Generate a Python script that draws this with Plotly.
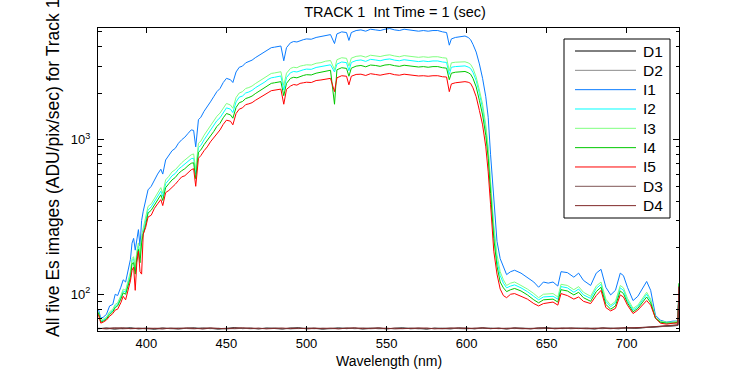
import plotly.graph_objects as go

# ---------------- data ----------------
wl = [
    370, 371.5, 373, 375, 377, 379, 380.5, 382, 384, 385.5,
    387, 388.5, 390, 391, 392, 393, 394, 395, 396, 397,
    398, 399.5, 401, 403, 405, 407, 409, 410.2, 412, 414,
    416, 418, 420, 422, 424, 426, 428, 429.5, 430.8, 432.5,
    434, 436, 438, 440, 442, 444, 446, 448, 450, 452.5,
    454, 456, 458, 460, 462, 464, 466, 468, 470, 472,
    474, 476, 478, 480, 482, 484, 485.8, 487.5, 490, 492,
    494, 496, 498, 500, 503, 506, 509, 512, 515, 517.5,
    519, 522, 525, 526.5, 528, 531, 534, 537, 540, 543,
    546, 549, 552, 555, 558, 561, 564, 567, 570, 573,
    576, 579, 582, 585, 587.5, 589.2, 590.5, 593, 596, 599,
    601, 602.5, 604, 606, 608, 610, 612, 613.5, 615, 617,
    619, 621, 623, 625, 627.5, 630, 634, 638, 642, 645,
    648, 651, 654, 657, 659, 663, 667, 670, 673, 677.5,
    681, 684, 687, 690, 693, 696, 698, 700.5, 704, 707,
    710, 712.5, 715, 718, 721, 725, 729, 732, 732.7,
]

i1 = [
    80, 70, 71, 74, 84, 86, 100, 98, 111, 124,
    120, 145, 168, 214, 230, 193, 225, 262, 205, 300,
    345, 400, 474, 500, 555, 600, 645, 600, 740, 790,
    850, 880, 950, 1000, 1040, 1100, 1160, 1150, 900, 1350,
    1400, 1530, 1630, 1760, 1900, 2050, 2150, 2350, 2500, 2450,
    2350, 2750, 2950, 3000, 3150, 3200, 3280, 3400, 3500, 3600,
    3720, 3850, 3950, 3980, 4030, 4050, 3250, 3950, 4250, 4330,
    4300, 4400, 4450, 4500, 4480, 4600, 4650, 4750, 4800, 4200,
    4850, 5000, 4950, 4400, 4950, 5100, 5150, 5050, 5200, 5150,
    5100, 5200, 5250, 5150, 5100, 5200, 5150, 5100, 5050, 5100,
    5050, 5100, 5100, 5000, 4950, 4100, 4500, 4600, 4650, 4700,
    4600, 4450, 4150, 3700, 3100, 2500, 1900, 1400, 800, 420,
    220, 170, 150, 134, 140, 143, 137, 129, 120, 111,
    120, 118, 120, 113, 140, 138, 129, 137, 123, 114,
    137, 145, 111, 99, 106, 137, 132, 111, 91, 97,
    110, 121, 106, 73, 68, 66, 67, 67, 114,
]

i2 = [
    77, 67, 68, 70, 76, 78, 84, 86, 96, 105,
    103, 118, 135, 165, 170, 142, 182, 205, 172, 230,
    258, 295, 350, 368, 400, 435, 465, 430, 520, 550,
    585, 605, 645, 670, 695, 725, 755, 760, 600, 890,
    920, 1000, 1070, 1150, 1230, 1330, 1390, 1510, 1610, 1580,
    1500, 1760, 1890, 1920, 2010, 2040, 2090, 2170, 2230, 2300,
    2370, 2460, 2520, 2540, 2570, 2590, 2100, 2530, 2720, 2770,
    2750, 2810, 2840, 2870, 2860, 2940, 2970, 3030, 3060, 2750,
    3090, 3190, 3160, 2800, 3170, 3260, 3290, 3220, 3320, 3290,
    3250, 3310, 3340, 3280, 3250, 3300, 3270, 3240, 3210, 3240,
    3210, 3240, 3240, 3190, 3170, 2650, 2950, 2980, 3000, 3010,
    2960, 2900, 2730, 2420, 2000, 1600, 1180, 850, 500, 260,
    165, 132, 118, 110, 113, 115, 110, 104, 97, 92,
    96, 96, 97, 93, 112, 110, 103, 108, 99, 94,
    109, 116, 90, 83, 88, 110, 106, 91, 79, 83,
    92, 100, 91, 70, 66, 65, 66, 66, 116,
]

i3 = [
    77, 68, 69, 71, 77, 80, 86, 88, 98, 108,
    106, 122, 140, 170, 175, 150, 190, 215, 180, 240,
    270, 310, 370, 385, 420, 455, 490, 450, 550, 580,
    620, 640, 680, 710, 740, 770, 800, 810, 640, 950,
    980, 1070, 1150, 1230, 1320, 1420, 1490, 1610, 1720, 1680,
    1600, 1880, 2010, 2050, 2150, 2180, 2230, 2310, 2380, 2450,
    2530, 2620, 2690, 2710, 2740, 2760, 2250, 2700, 2900, 2950,
    2930, 3000, 3030, 3060, 3050, 3130, 3160, 3230, 3260, 2850,
    3300, 3400, 3370, 3000, 3380, 3470, 3500, 3430, 3530, 3500,
    3460, 3520, 3550, 3490, 3450, 3510, 3480, 3440, 3420, 3450,
    3420, 3450, 3450, 3400, 3380, 2800, 3150, 3180, 3200, 3200,
    3150, 3080, 2900, 2550, 2100, 1700, 1250, 900, 540, 280,
    180, 140, 124, 114, 118, 120, 114, 108, 101, 95,
    100, 100, 101, 96, 116, 114, 107, 112, 103, 97,
    113, 120, 93, 85, 90, 114, 110, 94, 81, 85,
    95, 103, 93, 71, 67, 66, 66, 67, 117,
]

i4 = [
    76, 66, 67, 69, 74, 77, 82, 84, 93, 102,
    100, 113, 128, 158, 160, 135, 172, 195, 160, 215,
    245, 280, 335, 350, 380, 410, 440, 405, 490, 520,
    550, 570, 605, 630, 650, 680, 705, 710, 560, 830,
    860, 930, 990, 1060, 1130, 1220, 1280, 1390, 1480, 1450,
    1380, 1620, 1740, 1770, 1850, 1880, 1920, 1990, 2050, 2110,
    2180, 2260, 2320, 2340, 2360, 2380, 1930, 2320, 2500, 2540,
    2520, 2580, 2610, 2640, 2630, 2700, 2730, 2790, 2820, 1700,
    2840, 2930, 2900, 2580, 2910, 3000, 3030, 2970, 3050, 3030,
    2990, 3050, 3070, 3020, 2990, 3040, 3010, 2980, 2960, 2980,
    2950, 2980, 2980, 2930, 2910, 2450, 2700, 2740, 2760, 2770,
    2720, 2660, 2500, 2200, 1800, 1450, 1070, 760, 450, 230,
    152, 120, 110, 104, 107, 109, 105, 99, 92, 88,
    92, 92, 93, 89, 107, 105, 99, 103, 95, 90,
    104, 111, 86, 80, 84, 105, 101, 88, 77, 81,
    89, 96, 88, 70, 66, 65, 65, 66, 118,
]

i5 = [
    74, 65, 66, 68, 72, 75, 79, 80, 88, 97,
    92, 108, 122, 143, 150, 106, 160, 190, 140, 135,
    245, 270, 316, 325, 360, 385, 410, 375, 455, 470,
    490, 515, 545, 575, 585, 615, 640, 650, 500, 760,
    790, 850, 900, 970, 1030, 1110, 1160, 1260, 1340, 1320,
    1250, 1480, 1580, 1610, 1690, 1710, 1740, 1800, 1850, 1890,
    1950, 2020, 2080, 2100, 2120, 2130, 1700, 2120, 2230, 2280,
    2260, 2320, 2340, 2360, 2350, 2420, 2440, 2480, 2500, 2050,
    2520, 2600, 2580, 2270, 2580, 2650, 2660, 2610, 2680, 2650,
    2620, 2660, 2690, 2640, 2620, 2660, 2640, 2610, 2590, 2600,
    2580, 2600, 2600, 2560, 2550, 2050, 2300, 2340, 2370, 2380,
    2360, 2320, 2170, 1900, 1550, 1250, 900, 620, 380, 190,
    135, 108, 98, 95, 100, 101, 97, 93, 87, 84,
    87, 88, 89, 85, 101, 98, 93, 96, 90, 87,
    98, 106, 82, 78, 81, 99, 96, 85, 75, 79,
    85, 91, 85, 70, 65, 64, 65, 65, 112,
]

# dark frames, sampled every 5 nm
wl_dark = list(range(370, 731, 5)) + [732, 732.7]

d1 = [
    59.8, 60.4, 59.5, 60.2, 60.6, 59.7, 60.1, 59.4, 60.3, 60.0,
    59.6, 60.2, 60.5, 59.8, 60.1, 59.5, 60.3, 60.7, 59.9, 60.2,
    59.7, 60.4, 60.0, 59.6, 60.3, 60.6, 59.8, 60.1, 59.5, 60.2,
    60.5, 59.9, 60.3, 59.6, 60.0, 60.4, 59.7, 60.2, 60.6, 59.8,
    60.1, 59.5, 60.3, 60.0, 59.7, 60.4, 60.2, 59.8, 60.5, 59.9,
    60.2, 59.6, 60.4, 60.0, 59.8, 60.3, 60.6, 59.9, 60.1, 59.7,
    60.3, 60.0, 59.6, 60.4, 60.2, 59.8, 60.5, 60.1, 60.7, 61.0,
    61.4, 61.8, 62.5,
    62.8, 110,
]
d2 = [
    60.3, 59.6, 60.1, 60.7, 59.8, 60.2, 60.5, 59.9, 59.6, 60.4,
    60.1, 59.7, 60.0, 60.6, 59.8, 60.3, 59.5, 60.1, 60.4, 59.7,
    60.2, 59.9, 60.5, 60.1, 59.6, 60.0, 60.4, 59.8, 60.3, 59.7,
    60.0, 60.6, 59.8, 60.2, 60.5, 59.7, 60.1, 59.9, 60.3, 60.4,
    59.6, 60.2, 59.9, 60.5, 60.1, 59.8, 59.6, 60.3, 60.0, 60.6,
    59.8, 60.3, 59.9, 60.5, 60.2, 59.7, 60.1, 60.4, 59.8, 60.3,
    59.9, 60.4, 60.1, 59.8, 60.5, 60.2, 59.9, 60.6, 60.9, 61.3,
    61.7, 62.2, 62.9,
    63.2, 111,
]
d3 = [
    59.9, 60.2, 60.6, 59.7, 60.1, 60.4, 59.6, 60.2, 60.5, 59.8,
    60.3, 60.0, 59.7, 60.4, 60.6, 59.9, 60.2, 59.8, 60.0, 60.5,
    59.8, 60.1, 60.3, 59.7, 60.5, 59.9, 60.2, 60.6, 59.8, 60.1,
    59.7, 60.3, 60.0, 60.5, 59.8, 60.2, 60.4, 59.6, 60.0, 60.3,
    60.5, 59.9, 60.2, 59.7, 60.4, 60.0, 60.6, 59.8, 60.2, 59.9,
    60.4, 59.8, 60.1, 59.7, 60.3, 60.5, 59.9, 60.2, 60.6, 59.8,
    60.1, 59.7, 60.4, 60.2, 59.8, 60.4, 60.7, 60.2, 60.8, 61.2,
    61.6, 62.0, 62.7,
    63.0, 111,
]
d4 = [
    60.1, 59.8, 60.3, 60.5, 59.9, 60.0, 60.4, 60.2, 59.7, 60.3,
    59.9, 60.5, 60.1, 59.7, 60.3, 60.2, 59.8, 60.4, 60.6, 60.0,
    60.3, 59.7, 60.2, 60.4, 59.9, 60.3, 59.8, 60.1, 60.5, 60.3,
    59.8, 60.2, 60.6, 59.9, 60.1, 60.5, 59.8, 60.3, 59.9, 60.1,
    60.2, 60.4, 59.7, 60.1, 60.3, 60.5, 59.9, 60.2, 60.6, 60.0,
    59.9, 60.1, 60.5, 60.2, 59.7, 60.3, 60.4, 59.8, 60.2, 60.5,
    60.0, 60.3, 59.9, 60.5, 60.1, 60.3, 60.6, 60.3, 61.0, 61.4,
    61.8, 62.3, 63.1,
    63.4, 112,
]

x_tick_vals = [400, 450, 500, 550, 600, 650, 700]
y_tick_vals = [100, 1000]
y_tick_text = ["10<sup>2</sup>", "10<sup>3</sup>"]
y_minor_vals = [60, 70, 80, 90, 200, 300, 400, 500, 600, 700, 800, 900,
                2000, 3000, 4000, 5000]

title_text = "TRACK 1\u00a0 Int Time = 1 (sec)"
x_label = "Wavelength (nm)"
y_label = "All five Es images (ADU/pix/sec) for Track 1"

for s in (i1, i2, i3, i4, i5):
    assert len(s) == len(wl), len(s)
for s in (d1, d2, d3, d4):
    assert len(s) == len(wl_dark), len(s)

# ---------------- figure ----------------
series = [
    ("D1", wl_dark, d1, "#000000"),
    ("D2", wl_dark, d2, "#8c8c8c"),
    ("I1", wl, i1, "#0a7cff"),
    ("I2", wl, i2, "#00ffff"),
    ("I3", wl, i3, "#80ff80"),
    ("I4", wl, i4, "#00c800"),
    ("I5", wl, i5, "#ff0000"),
    ("D3", wl_dark, d3, "#7f5555"),
    ("D4", wl_dark, d4, "#802a2a"),
]

fig = go.Figure()
for name, xs, ys, col in series:
    fig.add_trace(go.Scatter(x=xs, y=ys, mode="lines", name=name,
                             line=dict(color=col, width=1), showlegend=False))

L, R, T, B = 98, 679, 28, 331
W, H = R - L, B - T


def px_x(p):
    return (p - L) / W


def px_y(p):
    return (B - p) / H


FONT = "Liberation Sans, Arial, Helvetica, sans-serif"

# legend drawn as a boxed key (MATLAB style: long line samples)
shapes = [dict(type="rect", xref="paper", yref="paper",
               x0=px_x(564), x1=px_x(670), y0=px_y(218), y1=px_y(39),
               line=dict(color="black", width=1), fillcolor="white",
               layer="above")]
annotations = []
row0, row_step = 51.0, 19.33
for k, (name, _, _, col) in enumerate(series):
    yc = row0 + k * row_step
    shapes.append(dict(type="line", xref="paper", yref="paper",
                       x0=px_x(575), x1=px_x(636), y0=px_y(yc), y1=px_y(yc),
                       line=dict(color=col, width=1), layer="above"))
    annotations.append(dict(text=name, xref="paper", yref="paper",
                            x=px_x(641), y=px_y(yc), xanchor="left",
                            yanchor="middle", showarrow=False,
                            font=dict(size=15.5, color="black")))

annotations += [
    dict(text=x_label, xref="paper", yref="paper", x=px_x(388.5),
         y=px_y(361), xanchor="center", yanchor="middle", showarrow=False,
         font=dict(size=14)),
    dict(text=y_label, xref="paper", yref="paper", x=px_x(53),
         y=px_y(168), xanchor="center", yanchor="middle",
         textangle=-90, showarrow=False, font=dict(size=17.5)),
]

fig.update_layout(
    width=750, height=375,
    margin=dict(l=L, r=750 - R, t=T, b=375 - B),
    paper_bgcolor="white", plot_bgcolor="white",
    font=dict(family=FONT, size=13, color="black"),
    title=dict(text=title_text, x=px_x(395), xref="paper", xanchor="center",
               y=1 - 12 / 375, yref="container", yanchor="middle",
               font=dict(size=14.5, color="black")),
    showlegend=False,
    xaxis=dict(range=[369.75, 732.7], tickvals=x_tick_vals, ticks="inside",
               ticklen=5, tickcolor="black", showline=True, linecolor="black",
               linewidth=1, mirror="ticks", showgrid=False, zeroline=False,
               ticklabelstandoff=0, tickfont=dict(size=13)),
    yaxis=dict(type="log", range=[1.762, 3.724], tickvals=y_tick_vals,
               ticktext=y_tick_text, ticks="inside", ticklen=6,
               tickcolor="black", showline=True, linecolor="black",
               linewidth=1, mirror="ticks", showgrid=False, zeroline=False,
               ticklabelposition="outside", ticklabelstandoff=4,
               minor=dict(tickvals=y_minor_vals, ticks="inside", ticklen=3.5,
                          tickcolor="black", showgrid=False),
               tickfont=dict(size=13)),
    shapes=shapes,
    annotations=annotations,
)

fig.write_html("out.html", config={"displayModeBar": False},
               post_script="document.body.style.margin='0px';"
                           "document.body.style.overflow='hidden';")
